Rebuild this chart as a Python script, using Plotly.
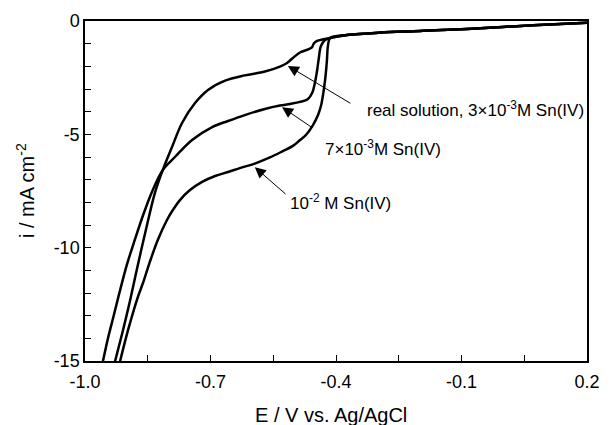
import plotly.graph_objects as go

# Shared tail of the three sweeps (from +0.2 V down to the onset)
tail_E = [0.200, 0.071, -0.087, -0.199, -0.295, -0.374, -0.414]
tail_i = [-0.08, -0.19, -0.35, -0.44, -0.51, -0.62, -0.75]

# real solution, 3e-3 M Sn(IV)
E_real = tail_E + [-0.433, -0.445, -0.453, -0.457, -0.465, -0.474, -0.486, -0.503, -0.517, -0.534,
                   -0.570, -0.618, -0.665, -0.706, -0.737, -0.768, -0.792, -0.814, -0.833, -0.849,
                   -0.871, -0.892, -0.909, -0.928, -0.936]
i_real = tail_i + [-0.82, -0.88, -0.99, -1.15, -1.24, -1.30, -1.39, -1.63, -1.85, -2.01,
                   -2.23, -2.40, -2.63, -3.04, -3.62, -4.50, -5.56, -6.57, -7.59, -8.78,
                   -10.54, -12.31, -13.63, -15.0, -15.62]

# 7e-3 M Sn(IV)
E_7 = tail_E + [-0.426, -0.436, -0.441, -0.445, -0.450, -0.457, -0.467, -0.486, -0.510, -0.534,
                -0.570, -0.618, -0.658, -0.696, -0.744, -0.785, -0.814, -0.840, -0.861, -0.881,
                -0.900, -0.916, -0.931, -0.945, -0.957, -0.964]
i_7 = tail_i + [-0.84, -1.10, -1.63, -2.16, -2.69, -3.18, -3.44, -3.57, -3.66, -3.73,
                -3.88, -4.15, -4.41, -4.68, -5.25, -6.00, -6.57, -7.54, -8.56, -9.66,
                -10.76, -11.87, -12.97, -13.99, -15.0, -15.62]

# 1e-2 M Sn(IV)
E_10 = tail_E + [-0.419, -0.422, -0.426, -0.431, -0.436, -0.443, -0.455, -0.472, -0.486, -0.503,
                 -0.527, -0.558, -0.594, -0.630, -0.658, -0.689, -0.720, -0.749, -0.773, -0.790,
                 -0.804, -0.826, -0.845, -0.859, -0.876, -0.897, -0.916, -0.924]
i_10 = tail_i + [-1.06, -1.81, -2.60, -3.26, -3.75, -4.15, -4.59, -5.03, -5.25, -5.51,
                 -5.74, -6.02, -6.29, -6.49, -6.66, -6.84, -7.10, -7.46, -7.90, -8.34,
                 -8.78, -9.66, -10.63, -11.43, -12.31, -13.63, -15.0, -15.62]

x_tickvals = [-1.0, -0.7, -0.4, -0.1, 0.2]
x_ticktext = ["-1.0", "-0.7", "-0.4", "-0.1", "0.2"]
y_tickvals = [0, -5, -10, -15]
y_ticktext = ["0", "-5", "-10", "-15"]

x_title = "E / V vs. Ag/AgCl"
y_title = "i / mA cm<sup>-2</sup>"

labels = ["real solution, 3×10<sup>-3</sup>M Sn(IV)",
          "7×10<sup>-3</sup>M Sn(IV)",
          "10<sup>-2</sup> M Sn(IV)"]
# arrow tip (E, i), arrow tail (E, i), text anchor (E, i)
arrow_tips = [(-0.515, -1.98), (-0.529, -3.80), (-0.594, -6.45)]
arrow_tails = [(-0.362, -3.67), (-0.455, -4.73), (-0.517, -7.69)]
text_pos = [(-0.331, -3.90), (-0.431, -5.62), (-0.515, -8.00)]

FAM = "Liberation Sans, Arial"

fig = go.Figure()
for E, i in [(E_real, i_real), (E_7, i_7), (E_10, i_10)]:
    fig.add_trace(go.Scatter(x=E, y=i, mode="lines",
                             line=dict(color="black", width=2.5, shape="spline", smoothing=1.0),
                             showlegend=False, hoverinfo="skip"))

for (tx, ty), (ax, ay), (lx, ly), lab in zip(arrow_tips, arrow_tails, text_pos, labels):
    fig.add_annotation(x=tx, y=ty, ax=ax, ay=ay, xref="x", yref="y", axref="x", ayref="y",
                       text="", showarrow=True, arrowhead=2, arrowsize=2.2, arrowwidth=1,
                       arrowcolor="black")
    fig.add_annotation(x=lx, y=ly, xref="x", yref="y", text=lab, showarrow=False,
                       xanchor="left", yanchor="middle",
                       font=dict(family=FAM, size=17, color="black"))

# axis titles as paper-anchored text
fig.add_annotation(x=0.49, y=0, xref="paper", yref="paper", yshift=-54, text=x_title,
                   showarrow=False, xanchor="center", yanchor="middle",
                   font=dict(family=FAM, size=20, color="black"))
fig.add_annotation(x=0, y=0.5, xref="paper", yref="paper", xshift=-60, text=y_title,
                   showarrow=False, xanchor="center", yanchor="middle", textangle=-90,
                   font=dict(family=FAM, size=20, color="black"))

font = dict(family=FAM, size=18, color="black")
fig.update_layout(
    width=616, height=425,
    margin=dict(l=85, r=29, t=21, b=64),
    paper_bgcolor="white", plot_bgcolor="white",
    font=font,
    xaxis=dict(range=[-1.0, 0.2], tickvals=x_tickvals, ticktext=x_ticktext,
               ticks="inside", ticklen=6, tickwidth=1, tickcolor="black",
               ticklabelstandoff=4, automargin=False,
               minor=dict(dtick=0.15, tick0=-1.0, ticks="inside", ticklen=6, tickwidth=1, tickcolor="black"),
               showline=True, linecolor="black", linewidth=1.5, mirror=True,
               showgrid=False, zeroline=False, tickfont=font),
    yaxis=dict(range=[-15, 0], tickvals=y_tickvals, ticktext=y_ticktext,
               ticks="inside", ticklen=6, tickwidth=1, tickcolor="black",
               automargin=False,
               minor=dict(dtick=1, tick0=0, ticks="inside", ticklen=6, tickwidth=1, tickcolor="black"),
               showline=True, linecolor="black", linewidth=1.5, mirror=True,
               showgrid=False, zeroline=False, tickfont=font),
)

fig.write_html("out.html")
